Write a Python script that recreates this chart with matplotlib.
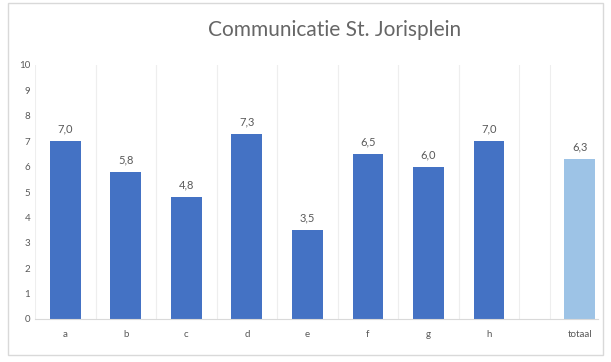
import matplotlib.pyplot as plt
from matplotlib.patches import Rectangle

categories = ["a", "b", "c", "d", "e", "f", "g", "h", "totaal"]
values = [7.0, 5.8, 4.8, 7.3, 3.5, 6.5, 6.0, 7.0, 6.3]
labels = ["7,0", "5,8", "4,8", "7,3", "3,5", "6,5", "6,0", "7,0", "6,3"]
positions = [0, 1, 2, 3, 4, 5, 6, 7, 8.5]
colors = ["#4472c4"] * 8 + ["#9dc3e6"]

plt.rcParams['font.family'] = ['Lato', 'DejaVu Sans']

fig = plt.figure(figsize=(6.11, 3.62), dpi=100)
fig.patches.append(Rectangle((8 / 611, 7 / 362), 595 / 611, 352 / 362,
                             transform=fig.transFigure, fill=False,
                             edgecolor="#d9d9d9", linewidth=1))
ax = fig.add_axes([35 / 611, 43 / 362, 563 / 611, 254 / 362])

# light vertical grid between the categories
for x in [p + d for p in positions for d in (-0.5, 0.5)]:
    ax.axvline(x, color="#eeeeee", linewidth=0.8, zorder=0)

bars = ax.bar(positions, values, width=0.51, color=colors, zorder=2)
for b, t in zip(bars, labels):
    ax.text(b.get_x() + b.get_width() / 2, b.get_height() + 0.25, t,
            ha="center", va="bottom", fontsize=8, color="#595959")

ax.set_xlim(-0.5, 8.8)
ax.set_ylim(0, 10)
ax.set_yticks(range(0, 11))
ax.set_xticks(positions)
ax.set_xticklabels(categories)
ax.tick_params(axis="both", length=0, labelsize=7, colors="#595959")
ax.tick_params(axis="x", pad=8)
for s in ["top", "right", "left"]:
    ax.spines[s].set_visible(False)
ax.spines["bottom"].set_color("#d9d9d9")

fig.text(335 / 611, 1 - 30 / 362, "Communicatie St. Jorisplein",
         ha="center", va="center", fontsize=15, color="#666666")

fig.savefig("out.png", dpi=100)
